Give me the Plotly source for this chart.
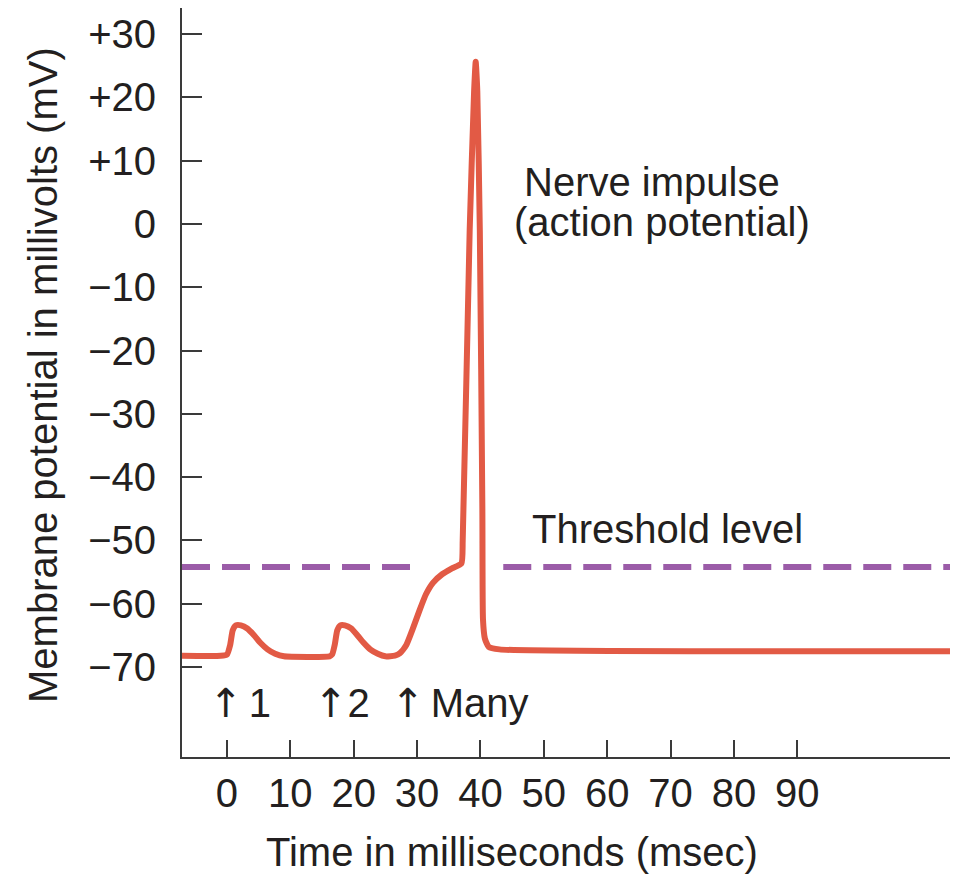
import plotly.graph_objects as go

# ---- data ----
time_ms = [-7.1, -1.0, 0.0, 0.5, 0.9, 1.4, 2.2, 3.2, 4.3, 5.3, 6.4, 7.6, 9.0, 16.2,
           16.6, 17.0, 17.4, 17.9, 18.6, 19.6, 20.6, 21.6, 22.6, 23.8, 25.0, 26.5,
           27.3, 28.3, 29.3, 30.4, 31.4, 32.5, 34.0, 35.5, 37.0,
           37.2, 38.3, 39.0, 39.25, 39.5, 39.9, 40.3, 40.4, 40.7, 41.3, 43.0, 114.1]
potential_mv = [-68.2, -68.2, -68.0, -66.5, -64.2, -63.4, -63.4, -63.9, -65.0, -66.2, -67.2, -67.9, -68.3, -68.3,
                -68.0, -66.5, -64.2, -63.4, -63.4, -63.9, -65.0, -66.2, -67.2, -67.9, -68.3, -68.2,
                -67.8, -66.5, -64.0, -61.0, -58.5, -56.7, -55.3, -54.4, -53.6,
                -50.0, -1.0, 21.0, 25.6, 21.0, -1.0, -45.0, -62.5, -65.5, -66.8, -67.2, -67.5]

threshold_mv = -54.2
threshold_left_t = [-7.1, 29.4]
threshold_right_t = [43.6, 114.1]

y_ticks = [30, 20, 10, 0, -10, -20, -30, -40, -50, -60, -70]
y_tick_labels = ["+30", "+20", "+10", "0", "\u221210", "\u221220", "\u221230",
                 "\u221240", "\u221250", "\u221260", "\u221270"]
x_ticks = [0, 10, 20, 30, 40, 50, 60, 70, 80, 90]
x_tick_labels = [str(v) for v in x_ticks]

FONT = "Liberation Sans, Arial, sans-serif"
TXT = "#231f20"
RED = "#e25a45"
PURPLE = "#9b5ca8"
AX = "#3a3a3a"
ARROW = '<span style="font-family:DejaVu Sans">\u2191</span>'
GAP = '<span style="font-size:22px"> </span>'

ML, MR, MT, MB = 174, 18, 0, 137
W, H = 960, 886
PW, PH = W - ML - MR, H - MT - MB

fig = go.Figure()
fig.add_trace(go.Scatter(x=threshold_left_t, y=[threshold_mv] * 2, mode="lines",
                         line=dict(color=PURPLE, width=6, dash="28px,12px"),
                         hoverinfo="skip", showlegend=False))
fig.add_trace(go.Scatter(x=threshold_right_t, y=[threshold_mv] * 2, mode="lines",
                         line=dict(color=PURPLE, width=6, dash="28px,12px"),
                         hoverinfo="skip", showlegend=False))
fig.add_trace(go.Scatter(x=time_ms, y=potential_mv, mode="lines",
                         line=dict(color=RED, width=6, shape="spline", smoothing=0.5),
                         showlegend=False))

fs = 40
annots = [
    dict(x=67.0, y=6.6, text="Nerve impulse", xanchor="center", yanchor="middle"),
    dict(x=68.6, y=0.3, text="(action potential)", xanchor="center", yanchor="middle"),
    dict(x=69.5, y=-48.2, text="Threshold level", xanchor="center", yanchor="middle"),
    dict(x=-3.2, y=-75.7, text=ARROW + GAP + "1", xanchor="left", yanchor="middle"),
    dict(x=13.4, y=-75.7, text=ARROW + "2", xanchor="left", yanchor="middle"),
    dict(x=25.6, y=-75.7, text=ARROW + GAP + "Many", xanchor="left", yanchor="middle"),
]
for a in annots:
    fig.add_annotation(**a, xref="x", yref="y", showarrow=False,
                       font=dict(family=FONT, size=fs, color=TXT))

# axis titles placed as text in the margins
fig.add_annotation(x=(35 - ML) / PW, xref="paper", xanchor="center",
                   y=0.51, yref="paper", yanchor="middle",
                   text="Membrane potential in millivolts (mV)",
                   textangle=-90, showarrow=False,
                   font=dict(family=FONT, size=fs, color=TXT))
fig.add_annotation(x=(504 - ML) / PW, xref="paper", xanchor="center",
                   y=(PH - 844 + MT) / PH, yref="paper", yanchor="middle",
                   text="Time in milliseconds (msec)", showarrow=False,
                   font=dict(family=FONT, size=fs, color=TXT))

fig.update_layout(
    width=W, height=H,
    margin=dict(l=ML, r=MR, t=MT, b=MB),
    paper_bgcolor="white", plot_bgcolor="white",
    font=dict(family=FONT, size=fs, color=TXT),
)
fig.update_xaxes(range=[-7.1, 114.1], showgrid=False, zeroline=False,
                 showline=True, linecolor=AX, linewidth=2,
                 ticks="inside", ticklen=17, tickwidth=2, tickcolor=AX,
                 tickvals=x_ticks, ticktext=x_tick_labels, ticklabelstandoff=0,
                 tickfont=dict(family=FONT, size=fs, color=TXT))
fig.update_yaxes(range=[-84.2, 34.1], showgrid=False, zeroline=False,
                 showline=True, linecolor=AX, linewidth=2,
                 ticks="inside", ticklen=20, tickwidth=2, tickcolor=AX,
                 tickvals=y_ticks, ticktext=y_tick_labels, ticklabelstandoff=16,
                 tickfont=dict(family=FONT, size=fs, color=TXT))

fig.write_html("out.html")
